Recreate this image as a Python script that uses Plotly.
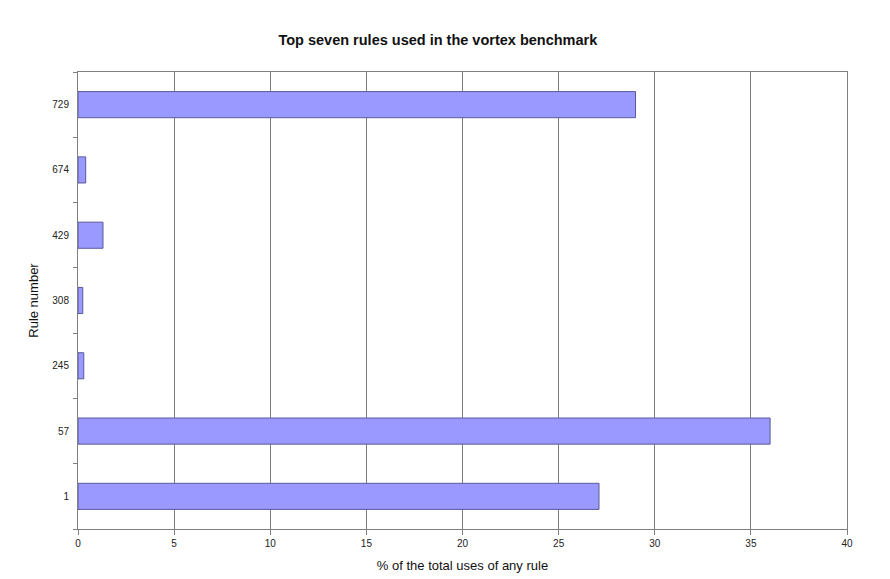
import plotly.graph_objects as go

rules = ["1", "57", "245", "308", "429", "674", "729"]
percent_uses = [27.1, 36.0, 0.3, 0.25, 1.3, 0.4, 29.0]
x_ticks = [0, 5, 10, 15, 20, 25, 30, 35, 40]

fig = go.Figure(
    go.Bar(
        x=percent_uses,
        y=rules,
        orientation="h",
        width=0.4,
        marker=dict(color="#9999FF", line=dict(color="#5a5a9a", width=1)),
    )
)

fig.update_layout(
    width=890,
    height=579,
    margin=dict(l=77.5, r=42.5, t=72, b=50, autoexpand=False),
    paper_bgcolor="white",
    plot_bgcolor="white",
    font=dict(family="Arial, Liberation Sans, sans-serif", size=10, color="#222"),
    showlegend=False,
    title=dict(
        text="<b>Top seven rules used in the vortex benchmark</b>",
        x=0.492,
        xanchor="center",
        y=1 - 40 / 579,
        yanchor="middle",
        font=dict(size=14.5, color="#111"),
    ),
)

fig.update_xaxes(
    range=[0, 40],
    tickvals=x_ticks,
    showgrid=True,
    gridcolor="#808080",
    gridwidth=1,
    showline=True,
    linecolor="#808080",
    linewidth=1,
    mirror=True,
    ticks="outside",
    ticklen=5,
    tickcolor="#808080",
    zeroline=False,
    automargin=False,
    title=dict(text="% of the total uses of any rule", font=dict(size=13, color="#111"), standoff=12),
)

fig.update_yaxes(
    type="category",
    categoryorder="array",
    categoryarray=rules,
    showgrid=False,
    showline=True,
    linecolor="#808080",
    linewidth=1,
    mirror=True,
    ticks="outside",
    tickson="boundaries",
    ticklen=4,
    tickcolor="#808080",
    ticklabelstandoff=6,
    automargin=False,
    title=dict(text="Rule number", font=dict(size=13, color="#111"), standoff=10),
)

fig.write_html("out.html")
